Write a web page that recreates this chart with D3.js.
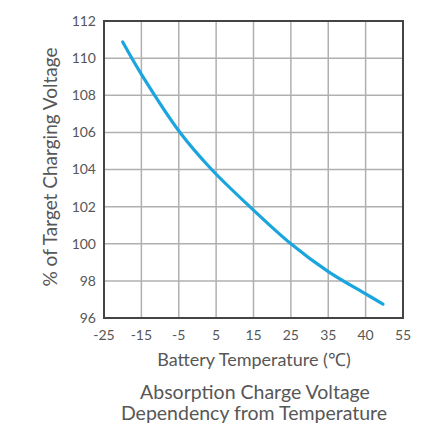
<!DOCTYPE html>
<html>
<head>
<meta charset="utf-8">
<script src="https://cdn.jsdelivr.net/npm/d3@7"></script>
<style>
  body { margin:0; background:#fff; }
  text { font-family: Lato, "Open Sans", sans-serif; fill:#575757; }
</style>
</head>
<body>
<div id="canvas"></div>
<script>
// tick labels as printed on the chart (note "40" sits where 45 would be)
var xTickLabels = ['-25','-15','-5','5','15','25','35','40','55'];
var yTicks = [96, 98, 100, 102, 104, 106, 108, 110, 112];

// curve: temperature position (deg C) vs % of target voltage
var temps  = [-20.0,  -14.9, -4.5,   3.8, 14,  25,  35,   45,   49.65];
var values = [110.87, 109.1, 105.95, 104, 102, 100, 98.5, 97.3, 96.75];

var m = {t:21, l:104},
    w = 299, h = 297;

var svg = d3.select('#canvas').append('svg')
    .attr('width', 448).attr('height', 434);

var plot = svg.append('g').attr('transform','translate('+m.l+','+m.t+')');

var x = d3.scaleLinear().domain([-25, 55]).range([0, w]);
var y = d3.scaleLinear().domain([96, 112]).range([h, 0]);

var xPos = d3.scalePoint().domain(xTickLabels).range([0, w]);

// grid
plot.selectAll('.vgrid').data(xTickLabels).enter()
    .append('line').attr('class','vgrid')
    .attr('x1', function(d){return xPos(d)}).attr('x2', function(d){return xPos(d)})
    .attr('y1', 0).attr('y2', h)
    .style('stroke','#b0b0b0').style('stroke-width','1.5px');

plot.selectAll('.hgrid').data(yTicks).enter()
    .append('line').attr('class','hgrid')
    .attr('x1', 0).attr('x2', w)
    .attr('y1', function(d){return y(d)}).attr('y2', function(d){return y(d)})
    .style('stroke','#b0b0b0').style('stroke-width','1.5px');

// frame
plot.append('rect').attr('width', w).attr('height', h)
    .style('fill','none').style('stroke','#444').style('stroke-width','2px');

// curve
var data = temps.map(function(t,i){ return {x:t, y:values[i]}; });
var line = d3.line()
    .x(function(d){return x(d.x)}).y(function(d){return y(d.y)})
    .curve(d3.curveCatmullRom.alpha(0.5));

plot.append('path').datum(data)
    .attr('d', line)
    .style('fill','none')
    .style('stroke','#1ba5de')
    .style('stroke-width','3.2px')
    .style('stroke-linecap','round');

// tick labels
plot.selectAll('.ylab').data(yTicks).enter()
    .append('text').attr('class','ylab')
    .attr('x', -8).attr('y', function(d){return y(d)})
    .attr('dy','0.35em').attr('text-anchor','end')
    .style('font-size','14px')
    .text(function(d){return d});

plot.selectAll('.xlab').data(xTickLabels).enter()
    .append('text').attr('class','xlab')
    .attr('x', function(d){return xPos(d)}).attr('y', h + 22)
    .attr('text-anchor','middle')
    .style('font-size','14px')
    .text(function(d){return d});

// axis titles
svg.append('text')
    .attr('transform','translate(57,167) rotate(-90)')
    .attr('text-anchor','middle')
    .style('font-size','19px')
    .text('% of Target Charging Voltage');

svg.append('text')
    .attr('x', 254).attr('y', 366)
    .attr('text-anchor','middle')
    .style('font-size','18px')
    .text('Battery Temperature (\u2103)');

svg.append('text')
    .attr('x', 255).attr('y', 399)
    .attr('text-anchor','middle')
    .style('font-size','19.5px')
    .text('Absorption Charge Voltage');

svg.append('text')
    .attr('x', 254).attr('y', 420)
    .attr('text-anchor','middle')
    .style('font-size','19.5px')
    .text('Dependency from Temperature');
</script>
</body>
</html>
